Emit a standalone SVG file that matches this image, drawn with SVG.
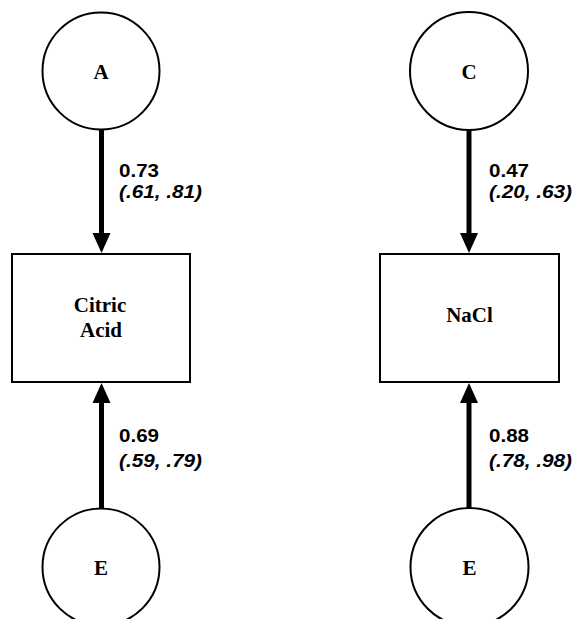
<svg xmlns="http://www.w3.org/2000/svg" width="576" height="619" viewBox="0 0 576 619">
<style>
.node{fill:#fff;stroke:#000;stroke-width:2}
.nt{font-family:"Liberation Serif","Times New Roman",serif;font-weight:bold;font-size:21px;text-anchor:middle;fill:#000}
.conn{stroke:#000;stroke-width:5;fill:none}
.lb{font-family:"Liberation Sans",Arial,sans-serif;font-weight:bold;font-size:18px;fill:#000}
.it{font-style:italic}
</style>
<g id="connectors">
<line class="conn" x1="101.5" y1="129" x2="101.5" y2="234"/>
<path d="M92.5,233 L110.5,233 L101.5,253 Z"/>
<line class="conn" x1="101.5" y1="508" x2="101.5" y2="402"/>
<path d="M92.5,403 L110.5,403 L101.5,383 Z"/>
<line class="conn" x1="469" y1="129" x2="469" y2="234"/>
<path d="M460,233 L478,233 L469,253 Z"/>
<line class="conn" x1="469" y1="508" x2="469" y2="402"/>
<path d="M460,403 L478,403 L469,383 Z"/>
<text class="lb" x="119" y="177" textLength="40" lengthAdjust="spacingAndGlyphs">0.73</text>
<text class="lb it" x="119" y="198" textLength="83" lengthAdjust="spacingAndGlyphs">(.61, .81)</text>
<text class="lb" x="119" y="442" textLength="40" lengthAdjust="spacingAndGlyphs">0.69</text>
<text class="lb it" x="119" y="467" textLength="83" lengthAdjust="spacingAndGlyphs">(.59, .79)</text>
<text class="lb" x="489" y="177" textLength="40" lengthAdjust="spacingAndGlyphs">0.47</text>
<text class="lb it" x="489" y="198" textLength="83" lengthAdjust="spacingAndGlyphs">(.20, .63)</text>
<text class="lb" x="489" y="442" textLength="40" lengthAdjust="spacingAndGlyphs">0.88</text>
<text class="lb it" x="489" y="467" textLength="83" lengthAdjust="spacingAndGlyphs">(.78, .98)</text>
</g>
<g id="A">
<circle class="node" cx="101" cy="71" r="58.5"/>
<text class="nt" x="101" y="79">A</text>
</g>
<g id="CitricAcid">
<rect class="node" x="12" y="254" width="178" height="128"/>
<text class="nt" x="100" y="312">Citric</text>
<text class="nt" x="101" y="337">Acid</text>
</g>
<g id="E1">
<circle class="node" cx="101" cy="567" r="58.5"/>
<text class="nt" x="101" y="575">E</text>
</g>
<g id="C">
<circle class="node" cx="469" cy="71" r="59"/>
<text class="nt" x="469" y="79">C</text>
</g>
<g id="NaCl">
<rect class="node" x="380" y="254" width="179" height="128"/>
<text class="nt" x="469.5" y="322">NaCl</text>
</g>
<g id="E2">
<circle class="node" cx="469.5" cy="567" r="59"/>
<text class="nt" x="469.5" y="575">E</text>
</g>
</svg>
